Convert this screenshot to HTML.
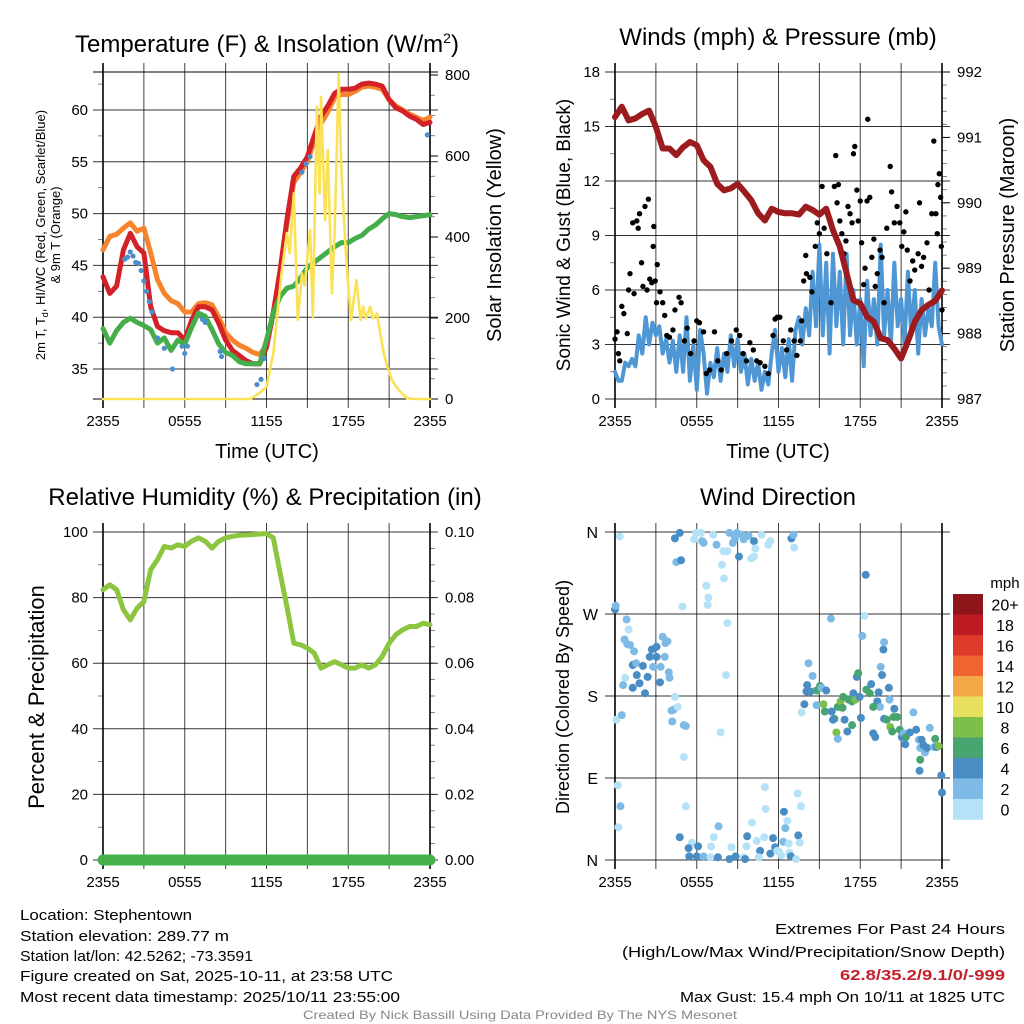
<!DOCTYPE html>
<html><head><meta charset="utf-8">
<style>
html,body{margin:0;padding:0;background:#fff;}
svg{display:block;font-family:"Liberation Sans",sans-serif;}
</style></head>
<body>
<svg id="chart" width="1024" height="1024" viewBox="0 0 1024 1024" xmlns="http://www.w3.org/2000/svg">
<rect x="0" y="0" width="1024" height="1024" fill="#fff"/>
<g id="marks"></g>
<text x="267" y="52" font-size="24" text-anchor="middle">Temperature (F) &amp; Insolation (W/m<tspan dy="-9" font-size="14">2</tspan><tspan dy="9">)</tspan></text>
<text x="778" y="45" font-size="24" text-anchor="middle">Winds (mph) &amp; Pressure (mb)</text>
<text x="265" y="505" font-size="24" text-anchor="middle">Relative Humidity (%) &amp; Precipitation (in)</text>
<text x="778" y="505" font-size="24" text-anchor="middle">Wind Direction</text>
<text x="267" y="458" font-size="20" text-anchor="middle">Time (UTC)</text>
<text x="778" y="458" font-size="20" text-anchor="middle">Time (UTC)</text>
<text transform="translate(45,235) rotate(-90)" font-size="13" text-anchor="middle">2m T, T<tspan dy="3" font-size="9">d</tspan><tspan dy="-3">, HI/WC (Red, Green, Scarlet/Blue)</tspan></text>
<text transform="translate(60,235) rotate(-90)" font-size="13" text-anchor="middle">&amp; 9m T (Orange)</text>
<text transform="translate(501,235) rotate(-90)" font-size="20" text-anchor="middle">Solar Insolation (Yellow)</text>
<text transform="translate(570,235) rotate(-90)" font-size="19" text-anchor="middle">Sonic Wind &amp; Gust (Blue, Black)</text>
<text transform="translate(1014,235) rotate(-90)" font-size="20" text-anchor="middle">Station Pressure (Maroon)</text>
<text transform="translate(44,697) rotate(-90)" font-size="22" text-anchor="middle">Percent &amp; Precipitation</text>
<text transform="translate(569,697) rotate(-90)" font-size="18" text-anchor="middle">Direction (Colored By Speed)</text>
<g font-size="15">
<text x="20" y="920" textLength="172" lengthAdjust="spacingAndGlyphs">Location: Stephentown</text>
<text x="20" y="941" textLength="209" lengthAdjust="spacingAndGlyphs">Station elevation: 289.77 m</text>
<text x="20" y="961" textLength="233" lengthAdjust="spacingAndGlyphs">Station lat/lon: 42.5262; -73.3591</text>
<text x="20" y="981" textLength="373" lengthAdjust="spacingAndGlyphs">Figure created on Sat, 2025-10-11, at 23:58 UTC</text>
<text x="20" y="1002" textLength="380" lengthAdjust="spacingAndGlyphs">Most recent data timestamp: 2025/10/11 23:55:00</text>
</g>
<g font-size="15">
<text x="775" y="934" textLength="230" lengthAdjust="spacingAndGlyphs">Extremes For Past 24 Hours</text>
<text x="622" y="957" textLength="383" lengthAdjust="spacingAndGlyphs">(High/Low/Max Wind/Precipitation/Snow Depth)</text>
<text x="840" y="980" textLength="165" lengthAdjust="spacingAndGlyphs" font-weight="bold" fill="#c4202b">62.8/35.2/9.1/0/-999</text>
<text x="680" y="1002" textLength="325" lengthAdjust="spacingAndGlyphs">Max Gust: 15.4 mph On 10/11 at 1825 UTC</text>
</g>
<text x="303" y="1019" font-size="12" fill="#888" textLength="434" lengthAdjust="spacingAndGlyphs">Created By Nick Bassill Using Data Provided By The NYS Mesonet</text>
</svg>
<script>
const halfHours = Array.from({length:49},(_,i)=>i*0.5);
const quarterHours = Array.from({length:97},(_,i)=>i*0.25);
const xTickLabels = ["2355","","0555","","1155","","1755","","2355"];

const tempRed = [43.9,42.3,43,46.5,48.1,46.8,46.2,41,39.1,38.7,38.5,38.5,37.8,39.7,41,41,40.7,39.4,37.8,36.8,36.3,35.8,35.5,35.5,37.1,40.4,44.5,49.4,53.6,54.4,55.5,57.5,59.4,60.4,61.6,62,62,62.1,62.5,62.6,62.5,62.3,61,60.2,59.9,59.4,59.1,58.6,58.8];
const temp9m = [46.5,47.8,48,48.6,49.1,48.3,48.6,46.2,43.6,42.3,41.6,41.3,40.5,40.5,41.3,41.4,41.2,40,38.5,37.8,37.3,37,36.6,36.4,37.3,40.5,44.5,49,53,54,55,57,58.7,59.8,61.2,61.5,61.5,61.8,62.2,62.3,62.2,62,61,60.4,60,59.6,59.3,59,59.3];
const dewpoint = [38.9,37.5,38.7,39.5,39.9,39.5,39.2,38.8,37.5,38,36.8,37.8,37.4,39,40.4,40.1,38.8,37.4,36.6,36.3,35.7,35.5,35.5,35.5,37.8,40.4,42,42.8,43,43.8,44.8,45.3,45.8,46.3,46.8,47.2,47.2,47.6,47.9,48.5,48.9,49.5,50,49.9,49.7,49.6,49.7,49.8,49.9];
const chillT = [1.6,1.8,2.0,2.2,2.4,2.6,2.8,3.0,3.2,3.4,3.6,4.0,4.5,5.1,5.8,6.0,6.2,7.3,7.5,8.6,8.7,11.3,11.6,11.8,14.6,14.9,15.2,23.8];
const chillV = [45.6,45.8,46.3,45.9,45.3,45.2,44.5,43.5,42.5,41.5,40.5,38,37,35,37.2,36.5,37.2,39.8,39.5,36.7,36.2,33.5,34,36,54,54.8,55.5,57.6];
const solarT = [0,10.8,11.5,12,12.5,13.1,13.5,13.7,14,14.3,14.6,14.8,15.2,15.4,15.7,15.9,16,16.3,16.5,16.8,17,17.3,17.5,17.8,18,18.2,18.6,18.9,19.1,19.3,19.6,19.8,20.1,20.6,20.8,21.2,21.7,22.3,22.8,24];
const solarV = [0,0,15,30,113,310,410,360,508,195,310,280,417,203,722,508,746,442,615,261,409,804,565,376,277,195,294,195,228,199,228,199,211,113,88,47,22,2,0,0];
const tempTicks = [35,40,45,50,55,60];
const solarTicks = [0,200,400,600,800];

const windSpeed = [1.5,1.0,1.0,2.0, 1.8,2.2,1.8,3.5, 2.5,4.5,3.0,4.2, 3.5,4.0,2.5,3.3, 2.0,3.2,1.5,3.5, 1.5,4.5,1.0,3.0, 0.5,3.8,2.5,0.3, 2.0,1.2,2.8,1.0, 2.5,1.5,3.5,1.8, 3.3,1.5,2.5,0.8, 2.2,1.0,2.0,0.5, 1.5,0.8,2.5,3.8, 1.5,2.8,1.2,3.3, 1.0,3.8,4.5,3.0, 5.0,3.5,7.0,4.0, 8.5,3.5,7.5,2.5, 8.0,4.0,7.0,3.0, 8.0,3.5,6.0,3.0, 5.5,1.8,6.5,3.5, 5.5,3.0,8.5,3.5, 6.0,3.0,7.5,4.0, 5.5,3.0,7.0,3.5, 6.0,2.5,5.5,3.5, 5.0,4.0,7.5,4.0, 3.0];
const gustT = [0,0.15,0.25,0.35,0.5,0.65,0.9,1.0,1.1,1.3,1.4,1.6,1.7,1.8,1.95,2.05,2.2,2.35,2.45,2.55,2.7,2.8,2.85,2.95,3.05,3.1,3.3,3.5,3.65,3.8,4.0,4.25,4.4,4.7,4.85,5.1,5.3,5.55,5.8,6.0,6.2,6.5,6.7,6.95,7.3,7.55,7.8,8.2,8.55,8.9,9.15,9.4,9.65,9.9,10.15,10.4,10.65,11.0,11.25,11.6,11.75,11.9,12.1,12.35,12.6,12.9,13.15,13.35,13.6,13.7,13.85,14.0,14.05,14.3,14.45,14.7,14.85,15.0,15.2,15.35,15.55,15.85,16.1,16.2,16.3,16.4,16.5,16.65,16.8,16.95,17.1,17.25,17.4,17.5,17.6,17.75,17.85,18.0,18.1,18.25,18.35,18.5,18.55,18.7,18.85,19.0,19.1,19.25,19.45,19.6,19.75,19.95,20.2,20.3,20.5,20.7,20.9,21.05,21.2,21.35,21.45,21.65,21.85,22.0,22.25,22.35,22.5,22.65,22.9,23.05,23.25,23.4,23.55,23.65,23.7,23.8,23.9,23.95,24.0];
const gustV = [3.3,3.7,2.5,2.1,5.1,4.7,3.6,6.0,6.9,9.7,5.8,9.8,9.4,10.2,7.5,6.2,10.6,6.0,11.0,6.6,6.4,8.4,9.5,6.5,5.3,7.4,5.9,5.3,4.6,3.5,3.4,3.8,4.9,5.6,5.3,3.2,3.9,2.5,3.2,4.3,4.2,3.7,1.4,1.6,3.7,2.1,1.6,2.5,3.2,3.8,3.5,2.5,2.1,3.1,2.7,2.1,2.0,1.8,1.4,3.5,4.4,4.5,4.5,3.2,2.7,3.8,3.2,2.4,3.2,4.3,6.5,7.9,6.9,6.7,5.9,8.4,9.7,9.1,11.7,9.4,8.0,5.3,11.7,13.4,10.8,11.8,9.8,9.1,8.0,8.7,10.6,10.2,9.7,13.5,13.9,11.5,9.8,10.9,8.6,6.3,7.2,10.9,15.4,11.1,7.8,8.8,6.2,6.9,8.2,7.8,5.3,9.4,12.8,11.4,9.7,10.6,9.7,8.4,9.2,10.3,8.2,6.5,7.6,7.1,8.0,10.8,7.3,7.8,8.6,6.0,10.2,14.2,10.2,9.1,11.8,12.4,11.1,8.4,4.9];
const pressure = [991.31,991.47,991.26,991.29,991.36,991.41,991.16,990.83,990.83,990.73,990.85,990.93,990.88,990.65,990.55,990.29,990.19,990.22,990.29,990.17,990.04,989.84,989.73,989.91,989.86,989.84,989.84,989.82,989.94,989.89,989.82,989.91,989.58,989.33,988.92,988.51,988.46,988.26,988.18,987.93,987.9,987.77,987.62,987.88,988.18,988.36,988.44,988.5,988.66];
const windTicks = [0,3,6,9,12,15,18];
const pressureTicks = [987,988,989,990,991,992];

const humidity = [82.4,83.9,82.4,76.3,73.2,76.8,78.8,88.5,91.6,95.6,95.1,96.1,95.6,97.2,98.2,97.2,95.1,97.2,98.2,98.7,99,99.1,99.2,99.4,99.5,98.2,87.5,77.3,66.1,65.6,64.6,63.1,58.5,59.5,60.5,59.5,58.5,58.5,59.5,58.5,59.5,62.1,66.1,68.7,70.2,71.2,71.2,72.2,71.7];
const precipT = [0,1,2,3,4,5,6,7,8,9,10,11,12,13,14,15,16,17,18,19,20,21,22,23,24];
const precip = [0,0,0,0,0,0,0,0,0,0,0,0,0,0,0,0,0,0,0,0,0,0,0,0,0];
const rhTicks = [0,20,40,60,80,100];
const precipTicks = ["0.00","0.02","0.04","0.06","0.08","0.10"];

const dirT = [0.35,0,0.05,0.85,1.0,0.7,0.9,1.1,1.4,1.3,1.55,2.05,1.6,1.8,1.3,0.6,0.75,2.2,2.4,2.55,2.7,3.05,3.05,2.8,3.35,3.3,3.5,3.7,3.85,3.65,3.95,4.0,4.4,4.15,4.3,4.6,4.2,5.05,5.2,5.05,0.1,0.5,0.2,0.4,0.25,4.4,4.75,4.5,4.85,4.95,5.8,5.95,6.3,6.4,6.5,7.2,7.45,7.95,8.25,7.85,8.0,6.7,6.85,6.8,8.25,8.15,7.75,8.4,8.65,8.8,8.95,9.1,9.3,9.45,9.8,10.2,10.3,10.0,10.2,10.75,11.25,11.4,12.95,13.1,13.15,15.85,18.4,18.3,18.15,14.2,14.5,14.1,14.05,14.35,14.8,15.05,15.15,15.5,13.9,13.7,14.8,15.3,15.4,15.9,16.1,16.0,16.35,16.55,16.75,16.7,16.85,17.05,16.25,16.35,17.15,17.4,17.5,17.65,17.75,17.85,17.95,17.4,18.05,18.45,18.7,18.8,19.25,19.35,19.45,18.95,18.95,19.1,19.5,19.6,19.7,19.75,20.1,20.15,19.75,19.95,20.2,20.35,20.5,20.45,20.7,20.9,21.05,21.2,21.35,21.3,21.65,21.9,22.1,22.3,22.4,22.5,22.65,22.75,22.9,23.1,23.4,23.5,23.6,23.75,22.4,22.35,23.95,24,4.75,5.65,5.4,5.45,6.0,6.1,6.5,7.0,7.25,7.05,7.6,7.55,8.4,8.55,8.85,9.45,9.55,9.65,9.7,10.05,10.4,10.65,10.55,10.95,11.0,11.05,11.4,11.6,11.75,11.9,12.05,12.2,12.35,12.4,12.5,12.65,12.75,12.8,12.9,13.3,13.4,13.45,13.55,13.65,5.2];
const dirDeg = [355,275,279,264,253,242,237,236,229,214,216,213,203,194,189,192,200,183,201,223,231,234,223,212,212,195,245,238,240,223,206,200,179,164,165,168,152,148,147,113,154,159,82,59,36,353,359,327,329,278,352,359,359,350,348,357,346,339,339,324,309,301,288,280,260,203,140,359,348,353,359,333,357,352,356,350,342,331,333,357,346,350,353,357,343,265,313,268,246,216,202,192,185,185,186,191,189,186,171,162,170,171,163,163,155,154,168,174,179,167,154,141,140,133,176,174,183,176,201,205,179,148,156,187,183,193,174,184,168,168,139,135,212,203,231,239,189,176,155,154,146,141,166,157,157,143,135,139,135,127,140,162,143,132,123,132,126,118,123,145,124,133,124,125,110,98,93,74,25,19,13,4,4,15,4,3,25,15,37,3,1,14,4,3,1,15,26,41,21,10,3,25,80,56,7,24,14,10,9,5,20,53,35,43,18,8,4,1,73,27,19,59,59];
const dirSpd = [1,5,3,3,1,3,3,3,3,5,3,5,5,5,5,3,1,5,5,5,5,5,5,3,3,5,3,3,3,3,3,3,1,3,3,1,3,3,3,1,1,3,1,3,1,5,5,3,5,1,1,1,1,3,3,1,3,1,1,1,1,1,1,1,1,1,1,3,3,3,3,5,3,3,3,5,1,1,1,1,1,1,5,3,1,3,5,1,3,3,3,5,5,5,7,7,3,5,5,1,3,9,7,5,7,5,7,9,7,7,5,5,9,3,7,7,5,9,5,7,5,7,5,7,7,5,5,5,3,7,5,5,3,5,5,3,5,3,5,7,9,7,5,7,7,7,5,3,7,5,5,3,5,3,3,5,5,3,5,3,3,7,5,9,7,5,5,5,5,1,5,5,5,5,3,1,1,1,3,5,5,1,5,1,5,1,5,1,1,5,1,1,1,1,5,5,5,1,1,1,3,5,3,1,1,1,5,1,1,5,1,1];
const speedBins = ["0","2","4","6","8","10","12","14","16","18","20+"];
const speedColors = ["#b5e2f7","#7dbbe6","#4a8dc5","#48a56f","#7dbf4b","#e6e05c","#f5a946","#ef6430","#dd3a2b","#bd1c24","#8e1519"];
const dirLabels = ["N","E","S","W","N"];

const NS = "http://www.w3.org/2000/svg";
const layer = document.getElementById("marks");
function mk(tag, attrs, name){
  const el = document.createElementNS(NS, tag);
  for (const k in attrs) el.setAttribute(k, attrs[k]);
  
  
  layer.appendChild(el);
  return el;
}
function linScale(d0,d1,r0,r1){ return v => r0 + (v-d0)/(d1-d0)*(r1-r0); }
function polyline(xs, ys, sx, sy, color, w, name){
  let d = "";
  const n = Math.min(xs.length, ys.length);
  for (let i=0;i<n;i++){ d += (i? "L":"M") + sx(xs[i]).toFixed(1) + "," + sy(ys[i]).toFixed(1); }
  return mk("path", {d:d, fill:"none", stroke:color, "stroke-width":w, "stroke-linejoin":"round", "stroke-linecap":"round"}, name);
}
function text(x,y,str,anchor,size,name,fill){
  const t = mk("text",{x:x,y:y,"text-anchor":anchor,"font-size":size,fill:fill||"#000"}, name);
  t.textContent = str;
  return t;
}
function frame(P, prefix){
  const sx = linScale(0,24,P.l,P.r);
  for (let h=0; h<=24; h+=3){
    const x = sx(h);
    mk("line",{x1:x,y1:P.t-9,x2:x,y2:P.b+9,stroke:"#000","stroke-width":(h===0||h===24)?1.6:1,"stroke-opacity":(h===0||h===24)?1:0.75}, prefix+"-v-grid");
    const lab = xTickLabels[h/3];
    if (lab) text(x, P.b+27, lab, "middle", 15, prefix+"-x-tick-label");
  }
  return sx;
}
function hgrid(P, y, prefix){
  mk("line",{x1:P.l-10,y1:y,x2:P.r+8,y2:y,stroke:"#000","stroke-width":1,"stroke-opacity":0.8}, prefix+"-h-grid");
}
function minorTick(x,y,dir,prefix){
  mk("line",{x1:x,y1:y,x2:x+dir*5,y2:y,stroke:"#000","stroke-width":0.8,"stroke-opacity":0.6}, prefix+"-minor-tick");
}

const P1 = {l:103,r:430,t:72,b:399};
const sx1 = frame(P1,"temp");
const syT = linScale(35,60,369,110);
const syS = linScale(0,800,399,75);
mk("line",{x1:P1.l-10,y1:P1.t,x2:P1.r+8,y2:P1.t,stroke:"#000","stroke-width":1}, "temp-top-border");
tempTicks.forEach(v=>{ hgrid(P1, syT(v), "temp"); text(P1.l-15, syT(v)+5, String(v), "end", 15, "temp-y-tick-label"); });
solarTicks.forEach(v=>{ mk("line",{x1:P1.r,y1:syS(v),x2:P1.r+8,y2:syS(v),stroke:"#000","stroke-width":1}, "solar-tick"); text(P1.r+15, syS(v)+5, String(v), "start", 15, "solar-y-tick-label"); });
for (let v=37.5; v<63.5; v+=5) minorTick(P1.l, syT(v), -1, "temp");
for (let v=50; v<800; v+=50) if (v%200) minorTick(P1.r, syS(v), 1, "solar");
mk("line",{x1:P1.l-10,y1:P1.b,x2:P1.r+8,y2:P1.b,stroke:"#000","stroke-width":1}, "temp-bottom-border");
polyline(halfHours, temp9m, sx1, syT, "#f5842c", 5, "temp-9m-line");
polyline(halfHours, tempRed, sx1, syT, "#d42027", 5, "temp-2m-line");
polyline(halfHours, dewpoint, sx1, syT, "#45ae4a", 5, "dewpoint-line");
chillT.forEach((t,i)=>{ mk("circle",{cx:sx1(t),cy:syT(chillV[i]),r:2.6,fill:"#4a8fcc"}, "wind-chill-point"); });
polyline(solarT, solarV, sx1, syS, "#fbe155", 2.6, "solar-line");

const P2 = {l:615,r:942,t:72,b:399};
const sx2 = frame(P2,"wind");
const syW = linScale(0,18,399,72);
const syP = linScale(987,992,399,72);
windTicks.forEach(v=>{ hgrid(P2, syW(v), "wind"); text(P2.l-15, syW(v)+5, String(v), "end", 15, "wind-y-tick-label"); });
pressureTicks.forEach(v=>{ text(P2.r+15, syP(v)+5, String(v), "start", 15, "pressure-y-tick-label"); mk("line",{x1:P2.r,y1:syP(v),x2:P2.r+8,y2:syP(v),stroke:"#000","stroke-width":1}, "pressure-tick"); });
for (let v=1.5; v<18; v+=3) minorTick(P2.l, syW(v), -1, "wind");
for (let v=987.2; v<992; v+=0.2) minorTick(P2.r, syP(v), 1, "pressure");
polyline(quarterHours, windSpeed, sx2, syW, "#4f97d4", 4, "sonic-wind-line");
gustT.forEach((t,i)=>{ if (gustV[i]===undefined) return; mk("circle",{cx:sx2(t),cy:syW(gustV[i]),r:2.7,fill:"#000"}, "gust-point"); });
polyline(halfHours, pressure, sx2, syP, "#9b1b1e", 6, "pressure-line");

const P3 = {l:103,r:430,t:532,b:860};
const sx3 = frame(P3,"rh");
const syH = linScale(0,100,860,532);
const syR = linScale(0,0.1,860,532);
rhTicks.forEach((v,i)=>{ hgrid(P3, syH(v), "rh"); text(P3.l-15, syH(v)+5, String(v), "end", 15, "rh-y-tick-label"); text(P3.r+15, syH(v)+5, precipTicks[i], "start", 15, "precip-y-tick-label"); });
for (let v=10; v<100; v+=20) minorTick(P3.l, syH(v), -1, "rh");
for (let v=0.005; v<0.1; v+=0.005) minorTick(P3.r, syR(v), 1, "precip");
polyline(halfHours, humidity, sx3, syH, "#8cc640", 5, "humidity-line");
polyline(precipT, precip, sx3, syR, "#43b049", 11, "precip-line");

const P4 = {l:615,r:942,t:532,b:860};
const sx4 = frame(P4,"dir");
const syD = linScale(0,360,860,532);
dirLabels.forEach((lab,i)=>{ const y = syD(i*90); hgrid(P4, y, "dir"); text(P4.l-17, y+6, lab, "end", 16, "direction-tick-label"); });
dirT.forEach((t,i)=>{
  if (dirDeg[i]===undefined) return;
  const spd = (dirSpd[i]===undefined) ? 1 : dirSpd[i];
  const bin = Math.min(10, Math.floor(spd/2));
  mk("circle",{cx:sx4(t),cy:syD(dirDeg[i]),r:4,fill:speedColors[bin]}, "direction-point");
});
const cbTop = 594, cbH = 20.5;
text(1005, 588, "mph", "middle", 15, "colorbar-title");
speedBins.forEach((lab,i)=>{
  const idx = 10 - i;
  const y = cbTop + i*cbH;
  mk("rect",{x:953,y:y,width:30,height:cbH+0.3,fill:speedColors[idx]}, "colorbar-swatch");
  text(1005, y+cbH/2+6, speedBins[idx], "middle", 16, "colorbar-label");
});
</script>
</body></html>
